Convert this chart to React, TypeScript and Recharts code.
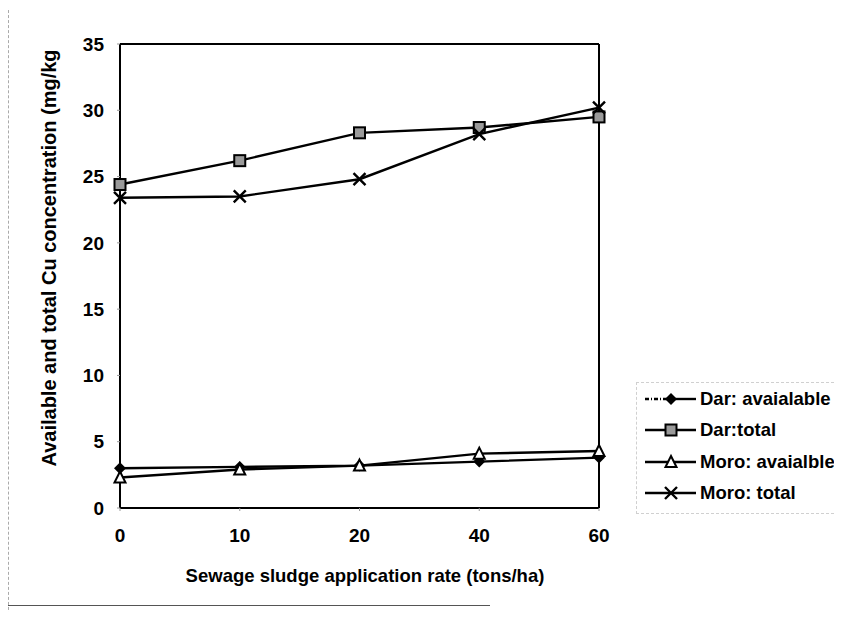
import { Legend, Line, LineChart, XAxis, YAxis } from 'recharts';

const rates = ['0', '10', '20', '40', '60'];
const darAvailable = [3.0, 3.1, 3.2, 3.5, 3.8];
const darTotal = [24.4, 26.2, 28.3, 28.7, 29.5];
const moroAvailable = [2.3, 2.9, 3.2, 4.1, 4.3];
const moroTotal = [23.4, 23.5, 24.8, 28.2, 30.2];
const yTicks = [0, 5, 10, 15, 20, 25, 30, 35];

const seriesNames = ['Dar: avaialable', 'Dar:total', 'Moro: avaialble', 'Moro: total'];

const data = rates.map((rate, i) => ({
  rate,
  darAvailable: darAvailable[i],
  darTotal: darTotal[i],
  moroAvailable: moroAvailable[i],
  moroTotal: moroTotal[i],
}));

const font = '"Liberation Sans", Arial, sans-serif';

type Kind = 'diamond' | 'square' | 'triangle' | 'cross';

function markerShape(kind: Kind, cx: number, cy: number, key?: string) {
  if (kind === 'diamond') {
    return (
      <path key={key} d={`M${cx},${cy - 6}L${cx + 6},${cy}L${cx},${cy + 6}L${cx - 6},${cy}Z`} fill="#000" />
    );
  }
  if (kind === 'square') {
    return (
      <rect key={key} x={cx - 5.5} y={cy - 5.5} width={11} height={11} fill="#9a9a9a" stroke="#000" strokeWidth={2} />
    );
  }
  if (kind === 'triangle') {
    return (
      <path key={key} d={`M${cx},${cy - 6}L${cx + 5.5},${cy + 5}L${cx - 5.5},${cy + 5}Z`} fill="#fff" stroke="#000" strokeWidth={2} />
    );
  }
  return (
    <path key={key} d={`M${cx - 6},${cy - 6}L${cx + 6},${cy + 6}M${cx + 6},${cy - 6}L${cx - 6},${cy + 6}`} stroke="#000" strokeWidth={2.4} fill="none" />
  );
}

const kinds: Kind[] = ['diamond', 'square', 'triangle', 'cross'];

function makeDot(kind: Kind) {
  return (props: any) => markerShape(kind, props.cx, props.cy, `${kind}-${props.index}`);
}

function LegendBox() {
  return (
    <div
      style={{
        width: 198,
        height: 132,
        border: '1px dashed #d0d0d0',
        borderRight: 'none',
        fontFamily: font,
        fontWeight: 'bold',
        fontSize: 18.5,
        color: '#000',
        whiteSpace: 'nowrap',
        boxSizing: 'border-box',
      }}
    >
      {seriesNames.map((name, i) => (
        <div key={name} style={{ height: 31.5, display: 'flex', alignItems: 'center' }}>
          <svg width={63} height={20} style={{ flexShrink: 0 }}>
            {i === 0 ? (
              <>
                <line x1={8} y1={10} x2={34} y2={10} stroke="#000" strokeWidth={2.4} strokeDasharray="4 2 1 2" />
                <line x1={34} y1={10} x2={59} y2={10} stroke="#000" strokeWidth={2.4} />
              </>
            ) : (
              <line x1={8} y1={10} x2={59} y2={10} stroke="#000" strokeWidth={2.4} />
            )}
            {markerShape(kinds[i], 34, 10)}
          </svg>
          <span>{name}</span>
        </div>
      ))}
    </div>
  );
}

function YLabel() {
  return (
    <text
      x={48}
      y={250}
      transform="rotate(-90 48 250)"
      textAnchor="middle"
      fontFamily={font}
      fontWeight="bold"
      fontSize={20}
      fill="#000"
    >
      Available and total Cu concentration (mg/kg
    </text>
  );
}

function XLabel() {
  return (
    <text x={357} y={574} textAnchor="middle" fontFamily={font} fontWeight="bold" fontSize={18.5} fill="#000">
      Sewage sludge application rate (tons/ha)
    </text>
  );
}

const tickStyle = { fontFamily: font, fontWeight: 'bold' as const, fontSize: 19, fill: '#000' };

export default function App() {
  return (
    <div style={{ position: 'relative', width: 826, height: 604 }}>
      <div style={{ position: 'absolute', left: 0, top: -8, width: 0, height: 620, borderLeft: '1px dashed #aaa' }} />
      <div style={{ position: 'absolute', left: -3, top: 597, width: 485, height: 0, borderTop: '1px solid #555' }} />
      <LineChart width={826} height={604} data={data} margin={{ top: 35, right: 234, bottom: 44, left: 0 }}>
        <XAxis
          dataKey="rate"
          xAxisId="bottom"
          height={60}
          axisLine={{ stroke: '#000', strokeWidth: 2 }}
          tickLine={{ stroke: '#999' }}
          tickSize={3}
          tickMargin={18}
          tick={tickStyle}
          padding={{ left: 0, right: 0 }}
        />
        <XAxis dataKey="rate" xAxisId="top" orientation="top" height={1} tick={false} tickLine={false} axisLine={{ stroke: '#000', strokeWidth: 2 }} />
        <YAxis
          yAxisId="left"
          width={112}
          domain={[0, 35]}
          ticks={yTicks}
          axisLine={{ stroke: '#000', strokeWidth: 2 }}
          tickLine={{ stroke: '#999' }}
          tickSize={3}
          tickMargin={13}
          tick={tickStyle}
          label={<YLabel />}
        />
        <YAxis yAxisId="right" orientation="right" width={1} domain={[0, 35]} tick={false} tickLine={false} axisLine={{ stroke: '#000', strokeWidth: 2 }} />
        <Line xAxisId="bottom" yAxisId="left" dataKey="darAvailable" name={seriesNames[0]} stroke="#000" strokeWidth={2.4} dot={makeDot('diamond')} isAnimationActive={false} />
        <Line xAxisId="bottom" yAxisId="left" dataKey="darTotal" name={seriesNames[1]} stroke="#000" strokeWidth={2.4} dot={makeDot('square')} isAnimationActive={false} />
        <Line xAxisId="bottom" yAxisId="left" dataKey="moroAvailable" name={seriesNames[2]} stroke="#000" strokeWidth={2.4} dot={makeDot('triangle')} isAnimationActive={false} />
        <Line xAxisId="bottom" yAxisId="left" dataKey="moroTotal" name={seriesNames[3]} stroke="#000" strokeWidth={2.4} dot={makeDot('cross')} isAnimationActive={false} />
        <Legend
          layout="vertical"
          align="center"
          verticalAlign="middle"
          content={() => <LegendBox />}
          wrapperStyle={{ position: 'absolute', left: 628, top: 374, width: 198, bottom: 'auto' }}
        />
        <XLabel />
      </LineChart>
    </div>
  );
}
